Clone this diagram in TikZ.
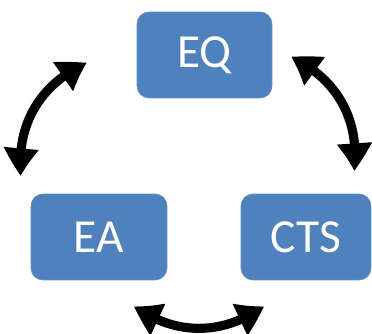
\documentclass[tikz,border=0pt]{standalone}
\usepackage{fontspec}
\setmainfont{Carlito}
\usepackage{xcolor}
\usepackage{tikz}
\usetikzlibrary{arrows.meta}
\usetikzlibrary{bending}
\definecolor{boxblue}{RGB}{79,129,189}

\tikzset{
  phasebox/.style={rectangle,rounded corners=0.24cm,fill=boxblue,draw=boxblue!90!white,
    text=white,inner sep=0pt,minimum height=1.72cm,
    font=\fontsize{27}{32}\selectfont},
  cyc/.style={line width=5.2pt,
    {Triangle[width=0.66cm,length=0.56cm,bend]}-{Triangle[width=0.66cm,length=0.56cm,bend]}}
}

\begin{document}
\begin{tikzpicture}[x=0.02cm,y=-0.02cm]
    \useasboundingbox (0,0) rectangle (372,334);
    % the three boxes
    \node[phasebox,minimum width=2.70cm] (eq)  at (204.5,55) {EQ};
    \node[phasebox,minimum width=2.72cm] (ea)  at (99,237)   {EA};
    \node[phasebox,minimum width=2.60cm] (cts) at (306,237)  {CTS};
    % ends of the curved arrows
    \coordinate (l1) at (21,176);  \coordinate (l2) at (87,63);
    \coordinate (r1) at (291,57);  \coordinate (r2) at (354,171);
    \coordinate (b1) at (134,306); \coordinate (b2) at (264,306);
    \draw[cyc] (l1) to[bend left=36] (l2);
    \draw[cyc] (r1) to[bend left=36] (r2);
    \draw[cyc] (b1) to[bend right=36] (b2);
  \end{tikzpicture}
\end{document}
